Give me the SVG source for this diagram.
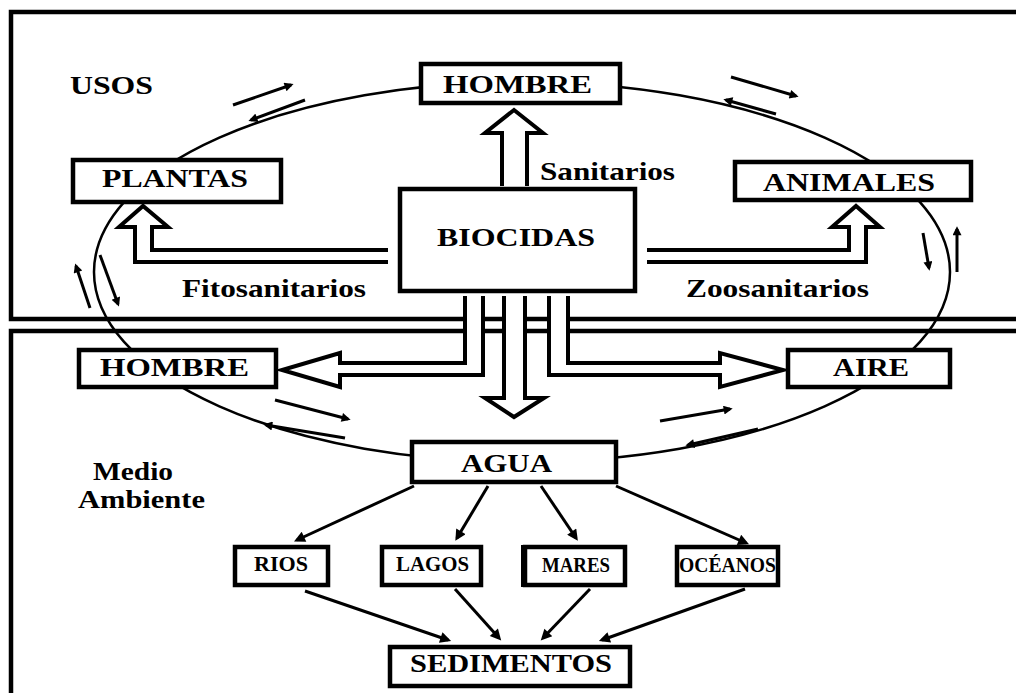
<svg xmlns="http://www.w3.org/2000/svg" width="1016" height="693" viewBox="0 0 1016 693">
<style>
.t{font-family:"Liberation Serif","Times New Roman",serif;font-weight:bold;fill:#000}
.b{fill:#fff;stroke:#000;stroke-width:4.5}
.p{fill:#fff;stroke:#000;stroke-width:4;stroke-linejoin:miter}
.f{fill:none;stroke:#000;stroke-width:4.5}
.s{fill:none;stroke:#000;stroke-width:2.5}
.a{fill:none;stroke:#000;stroke-width:3;marker-end:url(#sa)}
.c{fill:none;stroke:#000;stroke-width:3;marker-end:url(#ba)}
</style>
<defs>
<marker id="sa" viewBox="0 0 10 10" refX="7" refY="5" markerWidth="13" markerHeight="9" markerUnits="userSpaceOnUse" orient="auto"><path d="M0,0 L10,5 L0,10 z" fill="#000"/></marker>
<marker id="ba" viewBox="0 0 10 10" refX="7" refY="5" markerWidth="16" markerHeight="11" markerUnits="userSpaceOnUse" orient="auto"><path d="M0,0 L10,5 L0,10 z" fill="#000"/></marker>
</defs>
<rect width="1016" height="693" fill="#fff"/>
<g id="frames">
<path class="f" d="M1020,12 H11 V319 H465 M483,319 H504 M525,319 H549 M568,319 H1020"/>
<path class="f" d="M11,697 V331 H465 M483,331 H504 M525,331 H549 M568,331 H1020"/>
</g>
<g id="connectors">
<ellipse class="s" cx="522" cy="272" rx="428" ry="190"/>
<path class="p" d="M502,186 V133 H485 L514,110 L543,133 H527 V186"/>
<path class="p" d="M388,250 H152 V227 H168 L143,206 L119,227 H135 V262 H388"/>
<path class="p" d="M647,250 H849 V227 H832 L856,206 L880,227 H866 V262 H647"/>
<path class="p" d="M465,296 V363 H340 V353 L282,370 L340,387 V375 H483 V296"/>
<path class="p" d="M504,296 V398 H485 L514,417 L544,398 H525 V296"/>
<path class="p" d="M568,296 V363 H720 V353 L783,370 L720,387 V375 H549 V296"/>
<line class="a" x1="233" y1="105" x2="291" y2="85"/>
<line class="a" x1="305" y1="100" x2="251" y2="120"/>
<line class="a" x1="731" y1="77" x2="796" y2="96"/>
<line class="a" x1="776" y1="114" x2="726" y2="100"/>
<line class="a" x1="923" y1="233" x2="929" y2="268"/>
<line class="a" x1="957" y1="272" x2="957" y2="229"/>
<line class="a" x1="90" y1="308" x2="76" y2="266"/>
<line class="a" x1="100" y1="255" x2="118" y2="304"/>
<line class="a" x1="275" y1="400" x2="348" y2="419"/>
<line class="a" x1="345" y1="438" x2="266" y2="425"/>
<line class="a" x1="660" y1="421" x2="730" y2="409"/>
<line class="a" x1="758" y1="429" x2="688" y2="445"/>
<line class="c" x1="414" y1="486" x2="297" y2="540"/>
<line class="c" x1="488" y1="486" x2="457" y2="538"/>
<line class="c" x1="541" y1="486" x2="576" y2="538"/>
<line class="c" x1="616" y1="486" x2="746" y2="543"/>
<line class="c" x1="305" y1="591" x2="448" y2="640"/>
<line class="c" x1="455" y1="589" x2="499" y2="638"/>
<line class="c" x1="590" y1="589" x2="543" y2="638"/>
<line class="c" x1="745" y1="589" x2="602" y2="640"/>
</g>
<g id="usos"><text class="t" x="70" y="94" font-size="25" textLength="83" lengthAdjust="spacingAndGlyphs">USOS</text></g>
<g id="hombre-usos"><rect class="b" x="421" y="64" width="199" height="39"/><text class="t" x="443" y="93" font-size="26" textLength="149" lengthAdjust="spacingAndGlyphs">HOMBRE</text></g>
<g id="plantas"><rect class="b" x="73" y="160" width="208" height="42"/><text class="t" x="102" y="187" font-size="26" textLength="146" lengthAdjust="spacingAndGlyphs">PLANTAS</text></g>
<g id="animales"><rect class="b" x="735" y="162" width="236" height="38"/><text class="t" x="763" y="191" font-size="25" textLength="172" lengthAdjust="spacingAndGlyphs">ANIMALES</text></g>
<g id="sanitarios"><text class="t" x="540" y="180" font-size="25" textLength="135" lengthAdjust="spacingAndGlyphs">Sanitarios</text></g>
<g id="biocidas"><rect class="b" x="400" y="189" width="235" height="102" stroke-width="5"/><text class="t" x="437" y="246" font-size="25" textLength="158" lengthAdjust="spacingAndGlyphs">BIOCIDAS</text></g>
<g id="fitosanitarios"><text class="t" x="182" y="297" font-size="26" textLength="184" lengthAdjust="spacingAndGlyphs">Fitosanitarios</text></g>
<g id="zoosanitarios"><text class="t" x="686" y="297" font-size="26" textLength="183" lengthAdjust="spacingAndGlyphs">Zoosanitarios</text></g>
<g id="hombre-medio"><rect class="b" x="79" y="350" width="197" height="37"/><text class="t" x="100" y="376" font-size="25" textLength="149" lengthAdjust="spacingAndGlyphs">HOMBRE</text></g>
<g id="aire"><rect class="b" x="788" y="350" width="162" height="37"/><text class="t" x="833" y="376" font-size="25" textLength="76" lengthAdjust="spacingAndGlyphs">AIRE</text></g>
<g id="agua"><rect class="b" x="412" y="442" width="204" height="40"/><text class="t" x="461" y="472" font-size="25" textLength="91" lengthAdjust="spacingAndGlyphs">AGUA</text></g>
<g id="medio-ambiente"><text class="t" x="93" y="480" font-size="25" textLength="80" lengthAdjust="spacingAndGlyphs">Medio</text><text class="t" x="78" y="508" font-size="25" textLength="127" lengthAdjust="spacingAndGlyphs">Ambiente</text></g>
<g id="rios"><rect class="b" x="235" y="547" width="93" height="38"/><text class="t" x="254" y="571" font-size="21" textLength="54" lengthAdjust="spacingAndGlyphs">RIOS</text></g>
<g id="lagos"><rect class="b" x="382" y="547" width="99" height="38"/><text class="t" x="396" y="571" font-size="21" textLength="73" lengthAdjust="spacingAndGlyphs">LAGOS</text></g>
<g id="mares"><rect class="b" x="525" y="547" width="100" height="38"/><rect x="521" y="545" width="4" height="42" fill="#000"/><text class="t" x="542" y="572" font-size="21" textLength="68" lengthAdjust="spacingAndGlyphs">MARES</text></g>
<g id="oceanos"><rect class="b" x="677" y="547" width="101" height="38"/><text class="t" x="679" y="572" font-size="21" textLength="97" lengthAdjust="spacingAndGlyphs">OCÉANOS</text></g>
<g id="sedimentos"><rect class="b" x="390" y="647" width="240" height="39"/><text class="t" x="410" y="672" font-size="25" textLength="202" lengthAdjust="spacingAndGlyphs">SEDIMENTOS</text></g>
</svg>
